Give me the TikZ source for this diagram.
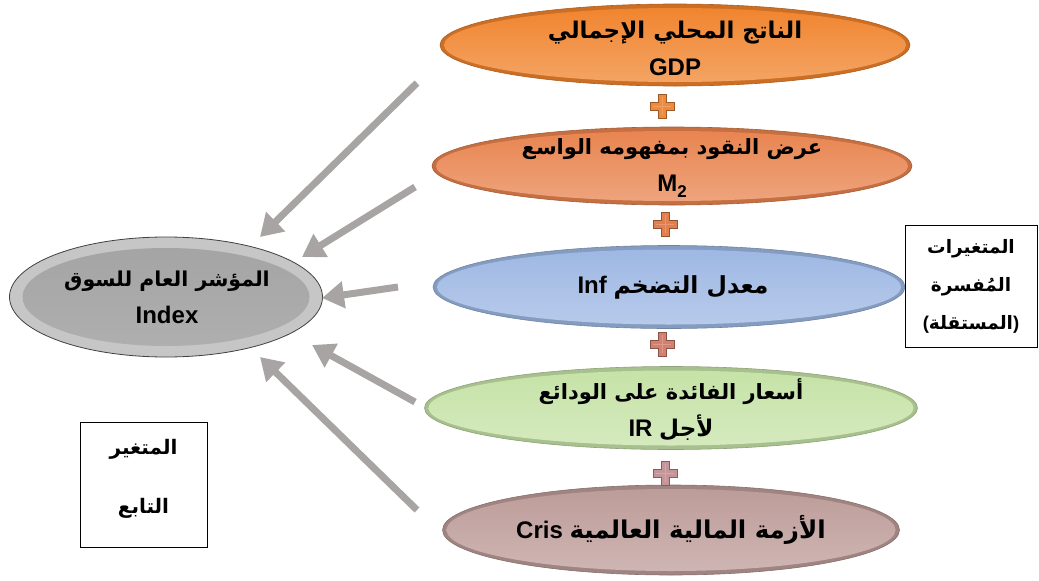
\documentclass[tikz,border=0pt]{standalone}
\usepackage{fontspec}
\setmainfont{Liberation Sans}
\newfontfamily\ar[Script=Arabic]{DejaVu Sans}
\TeXXeTstate=1
\usetikzlibrary{shapes.geometric,arrows.meta,calc}

% Arabic font at a given size
\newcommand\ars[1]{\ar\fontsize{#1}{36}\selectfont}

\definecolor{gdpc}{HTML}{F0832C}
\definecolor{mtwoc}{HTML}{E8834E}
\definecolor{infc}{HTML}{9DB7E3}
\definecolor{irc}{HTML}{C5E2A6}
\definecolor{crisc}{HTML}{BC9B98}
\definecolor{arrgray}{HTML}{A8A4A4}
\definecolor{plone}{HTML}{EE8A3C}
\definecolor{pltwo}{HTML}{E07F4F}
\definecolor{plthree}{HTML}{D4806F}
\definecolor{plfour}{HTML}{C4969A}

\tikzset{
  blob/.style={ellipse, inner sep=0pt, draw=#1!72!black, line width=0.6pt,
    fill=#1!85!black,
    path picture={\shade[top color=#1, bottom color=#1!72!white]
      let \p1=(path picture bounding box.north east), \p2=(path picture bounding box.center) in
      (\p2) ellipse ({\x1-\x2-4pt} and {\y1-\y2-4pt});}},
  idxblob/.style={ellipse, inner sep=0pt, draw=gray!50!black, line width=0.8pt,
    fill=gray!45,
    path picture={\shade[top color=gray!72, bottom color=gray!62]
      let \p1=(path picture bounding box.north east), \p2=(path picture bounding box.center) in
      (\p2) ellipse ({\x1-\x2-13pt} and {\y1-\y2-11pt});}},
  txt/.style={align=center, inner sep=0pt, font=\bfseries\fontsize{24}{37}\selectfont},
  labelbox/.style={draw=black, line width=0.8pt, fill=white, align=center, inner sep=0pt},
  arr/.style={draw=arrgray, line width=7pt, -{Triangle[width=26pt,length=22pt]}},
  pics/plussign/.style={code={
    \filldraw[fill=#1, draw=#1!65!black, line width=0.6pt]
      (-12,-4) -- (-4,-4) -- (-4,-12) -- (4,-12) -- (4,-4) -- (12,-4) -- (12,4)
      -- (4,4) -- (4,12) -- (-4,12) -- (-4,4) -- (-12,4) -- cycle;
    \draw[#1!80!white, line width=0.8pt] (0,-9) -- (0,9) (-9,0) -- (9,0);}}
}

\begin{document}
\begin{tikzpicture}[x=1pt, y=-1pt]
\useasboundingbox (0,0) rectangle (1039,581);

% explanatory variables
\node[blob=gdpc, minimum width=470pt, minimum height=82pt] (gdp) at (675,45) {};
\node[txt] (gdpt) at (675,48)
  {{\ars{23}\beginR الناتج المحلي الإجمالي\endR}\\GDP};
\node[blob=mtwoc, minimum width=480pt, minimum height=78pt] (mtwo) at (672,166) {};
\node[txt] (mtwot) at (672,168)
  {{\ars{21}\beginR عرض النقود بمفهومه الواسع\endR}\\M\raisebox{-6pt}{\fontsize{17}{17}\selectfont 2}};
\node[blob=infc, minimum width=472pt, minimum height=83pt] (inf) at (669,287) {};
\node[txt] (inft) at (673,287)
  {Inf {\ars{23.5}\beginR معدل التضخم\endR}};
\node[blob=irc, minimum width=493pt, minimum height=83pt] (ir) at (671,408) {};
\node[txt] (irt) at (671,410)
  {{\ars{21}\beginR أسعار الفائدة على الودائع\endR}\\IR {\ars{23}\beginR لأجل\endR}};
\node[blob=crisc, minimum width=457pt, minimum height=90pt] (cris) at (671,530) {};
\node[txt] (crist) at (671,530)
  {Cris {\ars{24.5}\beginR الأزمة المالية العالمية\endR}};

% plus signs between them
\pic at (662,106) {plussign=plone};
\pic at (665,224) {plussign=pltwo};
\pic at (662,344) {plussign=plthree};
\pic at (665,473) {plussign=plfour};

% dependent variable
\node[idxblob, minimum width=313pt, minimum height=120pt] (idx) at (166,297) {};
\node[txt] (idxt) at (167,297)
  {{\ars{20.5}\beginR المؤشر العام للسوق\endR}\\Index};

% arrows towards the index
\coordinate (s1) at (417,83);  \coordinate (t1) at (260,237);
\coordinate (s2) at (415,187); \coordinate (t2) at (302,257);
\coordinate (s3) at (398,287); \coordinate (t3) at (322,298);
\coordinate (s4) at (415,402); \coordinate (t4) at (312,345);
\coordinate (s5) at (417,510); \coordinate (t5) at (260,357);
\foreach \i in {1,...,5} \draw[arr] (s\i) -- (t\i);

% side labels
\node[labelbox, minimum width=132pt, minimum height=122pt,
      font=\bfseries\fontsize{18.5}{38}\selectfont] (expl) at (971,286)
  {{\ars{18.5}\beginR المتغيرات\endR}\\{\ars{18.5}\beginR المُفسرة\endR}\\({\ars{18.5}\beginR المستقلة\endR})};
\node[labelbox, minimum width=127pt, minimum height=125pt] (dep) at (143.5,484.5) {};
\node[txt, font=\bfseries\fontsize{20}{59}\selectfont] (dept) at (143.5,479)
  {{\ars{20}\beginR المتغير\endR}\\{\ars{20}\beginR التابع\endR}};
\end{tikzpicture}
\end{document}
